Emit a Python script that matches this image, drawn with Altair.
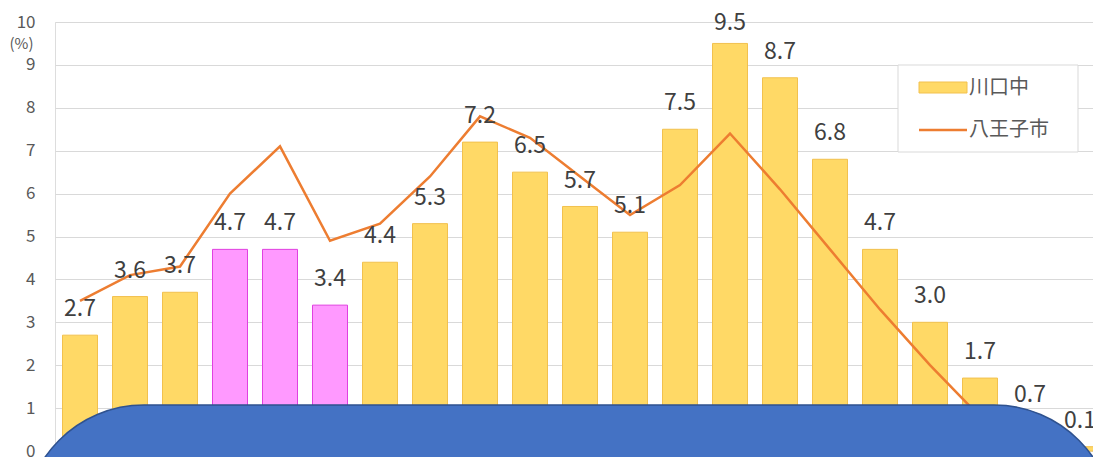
import altair as alt
import pandas as pd

# ---- data ----
ages = ["0～4歳", "5～9歳", "10～14歳", "15～19歳", "20～24歳", "25～29歳", "30～34歳",
        "35～39歳", "40～44歳", "45～49歳", "50～54歳", "55～59歳", "60～64歳", "65～69歳",
        "70～74歳", "75～79歳", "80～84歳", "85～89歳", "90～94歳", "95～99歳", "100歳以上"]
kawaguchi = [2.7, 3.6, 3.7, 4.7, 4.7, 3.4, 4.4, 5.3, 7.2, 6.5, 5.7, 5.1, 7.5, 9.5, 8.7,
             6.8, 4.7, 3.0, 1.7, 0.7, 0.1]
hachioji = [3.5, 4.1, 4.3, 6.0, 7.1, 4.9, 5.3, 6.4, 7.8, 7.3, 6.4, 5.5, 6.2, 7.4, 6.1,
            4.7, 3.3, 2.0, 0.8, 0.3, 0.1]
highlight = [0, 0, 0, 1, 1, 1, 0, 0, 0, 0, 0, 0, 0, 0, 0, 0, 0, 0, 0, 0, 0]
series_names = ["川口中", "八王子市"]
y_ticks = list(range(0, 11))
unit_label = "(%)"

FONT = "Noto Sans CJK JP"
YELLOW = "#FFD966"
YELLOW_EDGE = "#F2C14E"
PINK = "#FF99FF"
PINK_EDGE = "#E040E0"
ORANGE = "#ED7D31"
BLUE = "#4472C4"

df = pd.DataFrame({
    "age": ages,
    "kawaguchi": kawaguchi,
    "hachioji": hachioji,
    "group": ["学生" if h else "通常" for h in highlight],
})
one = pd.DataFrame({"k": [0]})

x_enc = alt.X("age:N", sort=ages,
              scale=alt.Scale(range=[0, 1050], paddingInner=0.3, paddingOuter=0.15),
              axis=None)
y_scale = alt.Scale(domain=[0, 10], nice=False, zero=True)

bars = alt.Chart(df).mark_bar(strokeWidth=1).encode(
    x=x_enc,
    y=alt.Y("kawaguchi:Q", scale=y_scale,
            axis=alt.Axis(values=y_ticks, grid=True, gridColor="#D9D9D9", gridWidth=1,
                          ticks=False, domain=False, labelPadding=20, labelFontSize=17,
                          labelColor="#595959", labelFont=FONT,
                          title=unit_label, titleAngle=0, titleX=-34, titleY=21,
                          titleAlign="center", titleBaseline="middle", titleFontSize=15,
                          titleFontWeight="normal", titleColor="#595959", titleFont=FONT)),
    color=alt.Color("group:N", scale=alt.Scale(domain=["通常", "学生"], range=[YELLOW, PINK]),
                    legend=None),
    stroke=alt.Stroke("group:N", scale=alt.Scale(domain=["通常", "学生"],
                                                 range=[YELLOW_EDGE, PINK_EDGE]),
                      legend=None),
)

line = alt.Chart(df).mark_line(color=ORANGE, strokeWidth=2.5).encode(
    x=x_enc,
    y=alt.Y("hachioji:Q", scale=y_scale),
)

labels = alt.Chart(df).transform_calculate(
    label_y="min(datum.kawaguchi + 0.44, 9.81)"
).mark_text(baseline="alphabetic", align="center", fontSize=23, color="#404040",
            font=FONT).encode(
    x=x_enc,
    y=alt.Y("label_y:Q", scale=y_scale),
    text=alt.Text("kawaguchi:Q", format=".1f"),
)

legend_box = alt.Chart(one).mark_rect(fill="white", stroke="#D9D9D9", strokeWidth=1).encode(
    x=alt.value(843), x2=alt.value(1023), y=alt.value(43), y2=alt.value(130))
legend_swatch = alt.Chart(one).mark_rect(fill=YELLOW, stroke=YELLOW_EDGE, strokeWidth=1).encode(
    x=alt.value(864), x2=alt.value(912), y=alt.value(60), y2=alt.value(71))
legend_line = alt.Chart(one).mark_rule(color=ORANGE, strokeWidth=2.5).encode(
    x=alt.value(864), x2=alt.value(912), y=alt.value(108))
legend_t1 = alt.Chart(one).mark_text(align="left", baseline="middle", fontSize=20,
                                     color="#595959", font=FONT, text=series_names[0]).encode(
    x=alt.value(914), y=alt.value(66))
legend_t2 = alt.Chart(one).mark_text(align="left", baseline="middle", fontSize=20,
                                     color="#595959", font=FONT, text=series_names[1]).encode(
    x=alt.value(914), y=alt.value(108))

cover = alt.Chart(one).mark_rect(fill=BLUE, stroke="#2F528F", strokeWidth=1.5,
                                 cornerRadius=120).encode(
    x=alt.value(-31), x2=alt.value(1059), y=alt.value(383), y2=alt.value(700))

chart = alt.layer(
    bars, line, labels, legend_box, legend_swatch, legend_line, legend_t1, legend_t2, cover
).properties(
    width=1038, height=429,
    autosize=alt.AutoSizeParams(type="none"),
    padding={"left": 47, "top": 14, "right": 0, "bottom": 6},
).configure_view(stroke=None).configure(background="white")

chart.save("out.html", embed_options={"renderer": "svg", "actions": False})
